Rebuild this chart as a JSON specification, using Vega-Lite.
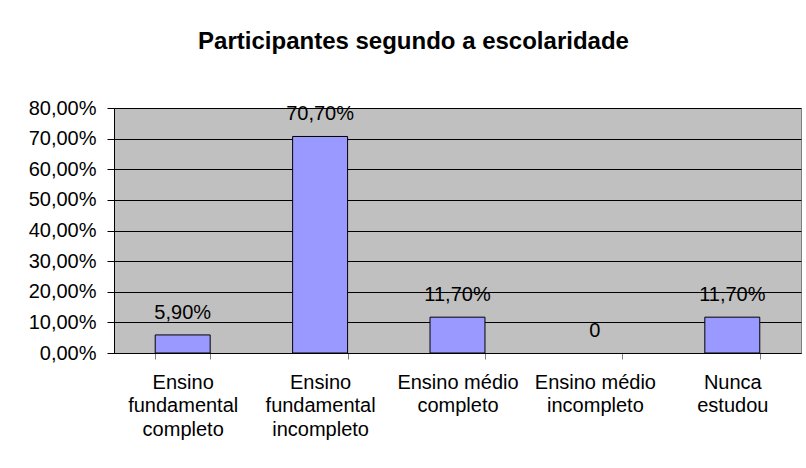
{
  "$schema": "https://vega.github.io/schema/vega-lite/v6.json",
  "width": 687,
  "height": 245,
  "autosize": {"type": "none"},
  "padding": {"left": 114, "top": 108, "right": 5, "bottom": 115},
  "background": "white",
  "title": {
    "text": "Participantes segundo a escolaridade",
    "font": "Liberation Sans",
    "fontSize": 24,
    "fontWeight": "bold",
    "color": "black",
    "anchor": "middle",
    "dx": -44,
    "offset": 44
  },
  "data": {
    "values": [
      {"escolaridade": "Ensino fundamental completo", "percentual": 0.059, "rotulo": "5,90%"},
      {"escolaridade": "Ensino fundamental incompleto", "percentual": 0.707, "rotulo": "70,70%"},
      {"escolaridade": "Ensino médio completo", "percentual": 0.117, "rotulo": "11,70%"},
      {"escolaridade": "Ensino médio incompleto", "percentual": 0, "rotulo": "0"},
      {"escolaridade": "Nunca estudou", "percentual": 0.117, "rotulo": "11,70%"}
    ]
  },
  "encoding": {
    "x": {
      "field": "escolaridade",
      "type": "nominal",
      "sort": null,
      "scale": {
        "domain": ["Ensino fundamental completo", "Ensino fundamental incompleto", "Ensino médio completo", "Ensino médio incompleto", "Nunca estudou"],
        "paddingInner": 0.6,
        "paddingOuter": 0.3
      },
      "axis": {
        "title": null,
        "labelAngle": 0,
        "labelAlign": "center",
        "labelBaseline": "top",
        "labelFont": "Liberation Sans",
        "labelFontSize": 20,
        "labelColor": "black",
        "labelLineHeight": 23.5,
        "labelPadding": 13,
        "labelExpr": "datum.value == 'Ensino fundamental completo' ? ['Ensino', 'fundamental', 'completo'] : datum.value == 'Ensino fundamental incompleto' ? ['Ensino', 'fundamental', 'incompleto'] : datum.value == 'Ensino médio completo' ? ['Ensino médio', 'completo'] : datum.value == 'Ensino médio incompleto' ? ['Ensino médio', 'incompleto'] : datum.value == 'Nunca estudou' ? ['Nunca', 'estudou'] : ''",
        "tickBand": "extent",
        "tickSize": 6,
        "tickColor": "#808080",
        "domainColor": "black",
        "grid": false
      }
    },
    "y": {
      "field": "percentual",
      "type": "quantitative",
      "scale": {"domain": [0, 0.8], "nice": false},
      "axis": {
        "title": null,
        "values": [0, 0.1, 0.2, 0.3, 0.4, 0.5, 0.6, 0.7, 0.8],
        "labelExpr": "replace(format(datum.value, '.2%'), '.', ',')",
        "labelFont": "Liberation Sans",
        "labelFontSize": 20,
        "labelColor": "black",
        "labelPadding": 11,
        "tickSize": 7,
        "tickColor": "black",
        "domainColor": "black",
        "grid": true,
        "gridColor": "black",
        "gridOpacity": 1,
        "gridWidth": 1
      }
    }
  },
  "layer": [
    {
      "transform": [{"filter": "datum.percentual > 0"}],
      "mark": {"type": "bar", "color": "#9999FF", "stroke": "black", "strokeWidth": 1}
    },
    {
      "mark": {
        "type": "text",
        "font": "Liberation Sans",
        "fontSize": 20,
        "color": "black",
        "baseline": "alphabetic",
        "dy": -16
      },
      "encoding": {"text": {"field": "rotulo"}}
    }
  ],
  "config": {
    "view": {"fill": "#C0C0C0", "stroke": "#808080", "strokeWidth": 1}
  }
}
